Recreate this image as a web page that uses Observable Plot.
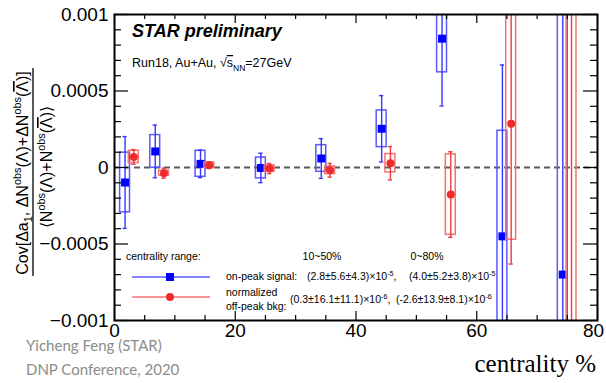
<!DOCTYPE html>
<html><head><meta charset="utf-8">
<script src="https://cdn.jsdelivr.net/npm/d3@7"></script>
<script src="https://cdn.jsdelivr.net/npm/@observablehq/plot@0.6"></script>
<style>body{margin:0;background:#fff;} svg{display:block}</style>
</head><body><div id="chart"></div>
<script>
// ---- data ----
const centrality = [2.5, 7.5, 15, 25, 35, 45, 55, 65, 75];
const onPeakValue = [-0.000098, 0.000105, 0.000024, -0.000003, 0.000059, 0.000253, 0.000842, -0.00045, -0.0007];
const onPeakStat  = [0.0003, 0.000172, 0.00009, 0.000096, 0.00013, 0.000217, 0.00044, 0.00112, 0.003];
const onPeakSys   = [0.000195, 0.000107, 0.000085, 0.000068, 0.000087, 0.00012, 0.00022, 0.00069, 0.0022];
const offPeakValue = [0.000069, -0.000037, 0.000015, -0.000007, -0.000018, 0.000028, -0.000177, 0.000286, 0.0012];
const offPeakStat  = [0.000048, 0.000033, 0.00002, 0.000033, 0.000045, 0.000109, 0.00028, 0.000917, 0.003];
const offPeakSys   = [0.00004, 0.000016, 0.000018, 0.000021, 0.000025, 0.00006, 0.000263, 0.000758, 0.0025];
const xTicks = [0, 20, 40, 60, 80];
const xMinorTicks = [5, 10, 15, 25, 30, 35, 45, 50, 55, 65, 70, 75];
const yTicks = [-0.001, -0.0005, 0, 0.0005, 0.001];
const yMinorTicks = [-0.0009, -0.0008, -0.0007, -0.0006, -0.0004, -0.0003, -0.0002, -0.0001, 0.0001, 0.0002, 0.0003, 0.0004, 0.0006, 0.0007, 0.0008, 0.0009];

// ---- layout ----
const W = 606, H = 383, mL = 114, mR = 9, mT = 14, mB = 63;
const pw = W - mL - mR, ph = H - mT - mB;
const offOn = -0.75, offOff = 0.7, boxHalf = 0.82, capHalf = 0.35;

const onPeak = centrality.map((c, i) => ({x: c + offOn, v: onPeakValue[i], st: onPeakStat[i], sy: onPeakSys[i]}));
const offPeak = centrality.map((c, i) => ({x: c + offOff, v: offPeakValue[i], st: offPeakStat[i], sy: offPeakSys[i]}));

const BLUE = "#0000ff", BLUE_ERR = "#3636ff", BLUE_BOX = "#5a5aff";
const RED = "#ee2b2b", RED_ERR = "#ee3a3a", RED_BOX = "#f27272";

function seriesMarks(data, pt, err, box, symbol, r) {
  return [
    Plot.rect(data, {x1: d => d.x - boxHalf, x2: d => d.x + boxHalf, y1: d => d.v - d.sy, y2: d => d.v + d.sy, fill: "none", stroke: box, strokeWidth: 1.5, clip: true}),
    Plot.ruleX(data, {x: "x", y1: d => d.v - d.st, y2: d => d.v + d.st, stroke: err, strokeWidth: 1.4, clip: true}),
    Plot.ruleY(data, {y: d => d.v + d.st, x1: d => d.x - capHalf, x2: d => d.x + capHalf, stroke: err, strokeWidth: 1.4, clip: true}),
    Plot.ruleY(data, {y: d => d.v - d.st, x1: d => d.x - capHalf, x2: d => d.x + capHalf, stroke: err, strokeWidth: 1.4, clip: true}),
    Plot.dot(data, {x: "x", y: "v", symbol, r, fill: pt, stroke: "none", clip: true})
  ];
}

const fmtY = d => d === 0 ? "0" : (d < 0 ? "\u2212" : "") + Math.abs(d).toString();

const plot = Plot.plot({
  width: W, height: H, marginLeft: mL, marginRight: mR, marginTop: mT, marginBottom: mB,
  x: {domain: [0, 80]},
  y: {domain: [-0.001, 0.001]},
  style: {fontFamily: "'Liberation Sans', Arial, sans-serif", background: "white", color: "black", overflow: "visible"},
  marks: [
    Plot.ruleY([0], {stroke: "#5a5a5a", strokeWidth: 2, strokeDasharray: "6,4"}),
    ...seriesMarks(onPeak, BLUE, BLUE_ERR, BLUE_BOX, "square", 4.5),
    ...seriesMarks(offPeak, RED, RED_ERR, RED_BOX, "circle", 4),
    // inward ticks (left, right, bottom, top)
    Plot.tickY(yTicks, {y: d => d, insetRight: pw - 14, stroke: "black", strokeWidth: 1.2}),
    Plot.tickY(yMinorTicks, {y: d => d, insetRight: pw - 7, stroke: "black", strokeWidth: 1.2}),
    Plot.tickY(yTicks, {y: d => d, insetLeft: pw - 14, stroke: "black", strokeWidth: 1.2}),
    Plot.tickY(yMinorTicks, {y: d => d, insetLeft: pw - 7, stroke: "black", strokeWidth: 1.2}),
    Plot.tickX(xTicks, {x: d => d, insetTop: ph - 9, stroke: "black", strokeWidth: 1.2}),
    Plot.tickX(xMinorTicks, {x: d => d, insetTop: ph - 5, stroke: "black", strokeWidth: 1.2}),
    Plot.tickX(xTicks, {x: d => d, insetBottom: ph - 9, stroke: "black", strokeWidth: 1.2}),
    Plot.tickX(xMinorTicks, {x: d => d, insetBottom: ph - 5, stroke: "black", strokeWidth: 1.2}),
    Plot.axisY({ticks: yTicks, tickSize: 0, tickPadding: 6, tickFormat: fmtY, fontSize: 19, label: null}),
    Plot.axisX({ticks: xTicks.slice(0, -1), tickSize: 0, tickPadding: 3, fontSize: 19, label: null}),
    Plot.axisX({ticks: xTicks.slice(-1), tickSize: 0, tickPadding: 3, fontSize: 19, label: null, dx: -4}),
    Plot.frame({stroke: "black", strokeWidth: 2})
  ]
});

document.getElementById("chart").appendChild(plot);
const svg = d3.select(plot);
const F = "'Liberation Sans', Arial, sans-serif";
const ann = svg.append("g").attr("text-anchor", "start").attr("fill", "black");

// helper to build text with tspans: parts = [[text, kind]], kind: n, sup, sub, bar
function rich(sel, parts, fs) {
  let shift = 0;
  for (const [t, k] of parts) {
    let target = 0, size = fs;
    if (k === "sup") { target = -0.42 * fs; size = 0.68 * fs; }
    if (k === "sub") { target = 0.28 * fs; size = 0.68 * fs; }
    const ts = sel.append("tspan").attr("dy", target - shift).attr("font-size", size).text(t);
    if (k === "bar") ts.attr("text-decoration", "overline");
    shift = target;
  }
}

// y-axis title (fraction)
const numer = ann.append("text").attr("transform", "translate(28,173) rotate(-90)")
  .attr("text-anchor", "middle").attr("font-family", F).attr("font-size", 16);
rich(numer, [["Cov[\u0394a", "n"], ["1", "sub"], [", \u0394N", "n"], ["obs", "sup"], ["(\u039B)+\u0394N", "n"], ["obs", "sup"], ["(", "n"], ["\u039B", "bar"], [")]", "n"]], 16);
ann.append("line").attr("x1", 33).attr("x2", 33).attr("y1", 68).attr("y2", 276).attr("stroke", "black").attr("stroke-width", 1.3);
const denom = ann.append("text").attr("transform", "translate(52,167) rotate(-90)")
  .attr("text-anchor", "middle").attr("font-family", F).attr("font-size", 16);
rich(denom, [["\u27E8N", "n"], ["obs", "sup"], ["(\u039B)+N", "n"], ["obs", "sup"], ["(", "n"], ["\u039B", "bar"], [")\u27E9", "n"]], 16);

// title & subtitle
ann.append("text").attr("x", 132).attr("y", 37).attr("font-family", F).attr("font-size", 18)
  .attr("font-weight", "bold").attr("font-style", "italic").text("STAR preliminary");
const sub = ann.append("text").attr("x", 132).attr("y", 67).attr("font-family", F).attr("font-size", 12.5);
rich(sub, [["Run18, Au+Au, \u221A", "n"], ["s", "bar"], ["NN", "sub"], ["=27GeV", "n"]], 12.5);

// legend
const LF = 10.5;
const lg = ann.append("g").attr("font-family", F).attr("font-size", LF);
lg.append("text").attr("x", 126).attr("y", 260).text("centrality range:");
lg.append("text").attr("x", 322).attr("y", 260).attr("text-anchor", "middle").text("10~50%");
lg.append("text").attr("x", 427).attr("y", 260).attr("text-anchor", "middle").text("0~80%");
lg.append("line").attr("x1", 132).attr("x2", 210).attr("y1", 277).attr("y2", 277).attr("stroke", BLUE_BOX).attr("stroke-width", 1.5);
lg.append("rect").attr("x", 166).attr("y", 273).attr("width", 8).attr("height", 8).attr("fill", BLUE);
lg.append("line").attr("x1", 132).attr("x2", 210).attr("y1", 297).attr("y2", 297).attr("stroke", RED_BOX).attr("stroke-width", 1.5);
lg.append("circle").attr("cx", 170).attr("cy", 297).attr("r", 4).attr("fill", RED);
lg.append("text").attr("x", 226).attr("y", 280).text("on-peak signal:");
rich(lg.append("text").attr("x", 307).attr("y", 280), [["(2.8\u00B15.6\u00B14.3)\u00D710", "n"], ["-5", "sup"], [",", "n"]], LF);
rich(lg.append("text").attr("x", 409).attr("y", 280), [["(4.0\u00B15.2\u00B13.8)\u00D710", "n"], ["-5", "sup"]], LF);
lg.append("text").attr("x", 226).attr("y", 296).text("normalized");
lg.append("text").attr("x", 226).attr("y", 310).text("off-peak bkg:");
rich(lg.append("text").attr("x", 290).attr("y", 303), [["(0.3\u00B116.1\u00B111.1)\u00D710", "n"], ["-6", "sup"], [",", "n"]], LF);
rich(lg.append("text").attr("x", 396).attr("y", 303), [["(-2.6\u00B113.9\u00B18.1)\u00D710", "n"], ["-6", "sup"]], LF);

// footer texts
ann.append("text").attr("x", 26).attr("y", 351).attr("font-family", "Lato, 'Noto Sans', sans-serif").attr("font-size", 15).attr("fill", "#8c8c8c").text("Yicheng Feng (STAR)");
ann.append("text").attr("x", 26).attr("y", 375).attr("font-family", "Lato, 'Noto Sans', sans-serif").attr("font-size", 15).attr("fill", "#8c8c8c").text("DNP Conference, 2020");
ann.append("text").attr("x", 596).attr("y", 372).attr("text-anchor", "end").attr("font-family", "'Liberation Serif', 'Times New Roman', serif").attr("font-size", 25).text("centrality %");
</script></body></html>
